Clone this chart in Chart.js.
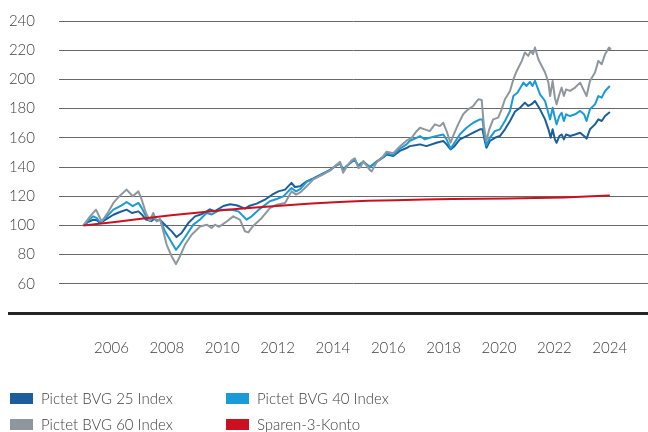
<!DOCTYPE html>
<html>
<head>
<meta charset="utf-8">
<script src="https://cdn.jsdelivr.net/npm/chart.js@4.4.1/dist/chart.umd.min.js"></script>
<style>
  html,body{margin:0;padding:0;background:#fff;}
  #wrap{position:relative;width:648px;height:432px;overflow:hidden;font-family:Lato,"Open Sans",sans-serif;font-weight:300;}
  #c{position:absolute;left:0;top:0;}
  .lg{position:absolute;display:flex;align-items:center;font-size:15px;color:#404040;white-space:nowrap;}
  .lg span.sw{display:inline-block;width:23px;height:11px;margin-right:8px;}
</style>
</head>
<body>
<div id="wrap"><canvas id="c" width="648" height="432"></canvas></div>
<script>
// ---- data (decimal years, index values) ----
const seriesNames = ['Pictet BVG 25 Index','Pictet BVG 40 Index','Pictet BVG 60 Index','Sparen-3-Konto'];
const seriesColors = ['#1b5e9b','#1a9ad6','#8e979e','#cc1020'];
const tickLabels = ['2006','2008','2010','2012','2014','2016','2018','2020','2022','2024'];
const yTicks = [60,80,100,120,140,160,180,200,220,240];

const d25 = [2005.87,2006.05,2006.22,2006.35,2006.46,2006.7,2006.94,2007.15,2007.41,2007.6,2007.83,2007.95,2008.1,2008.3,2008.4,2008.5,2008.6,2008.72,2008.84,2009.02,2009.19,2009.37,2009.61,2009.85,2010.1,2010.38,2010.56,2010.86,2011.1,2011.33,2011.63,2011.8,2012.05,2012.34,2012.6,2012.82,2013.06,2013.29,2013.41,2013.59,2013.83,2014.07,2014.42,2014.66,2014.9,2015.02,2015.13,2015.25,2015.43,2015.55,2015.67,2015.85,2016.08,2016.32,2016.56,2016.68,2016.92,2017.15,2017.39,2017.51,2017.75,2017.87,2018.1,2018.46,2018.7,2018.82,2018.96,2019.1,2019.29,2019.53,2019.77,2020.01,2020.1,2020.17,2020.24,2020.36,2020.54,2020.72,2020.9,2021.08,2021.26,2021.44,2021.61,2021.73,2021.85,2021.97,2022.15,2022.33,2022.45,2022.53,2022.6,2022.68,2022.74,2022.84,2022.92,2023.0,2023.08,2023.22,2023.4,2023.58,2023.72,2023.81,2023.93,2024.11,2024.23,2024.35,2024.47,2024.64];
const v25 = [100,102.5,103.9,103.5,101.6,104.5,107.3,109,110.8,108.5,109.6,107.5,104,103,104.5,103.2,104,101.5,99.3,95.9,92,94.8,101.6,106.2,107.8,111,109.8,113.3,114.5,113.8,111.5,113.5,114.9,117.6,121,123.3,124.5,129.1,126.3,126.8,130.2,132.2,135.6,137.9,141.2,142.3,138.2,140.5,143.5,144.5,141,143.5,140,143.5,146.5,148.5,147.5,151,153,154.3,155,155.5,154.3,156.6,157.8,155.5,152,154.3,158.9,161.2,163.5,165.8,165.8,158.9,153.2,157.8,160,161.2,165.8,171.5,178,180.6,184.1,181.8,183,185.2,179.5,172.6,165.8,160,165.8,158.9,156.6,161.2,162.3,158.9,162.3,161.2,162.3,163.5,161.2,159.4,165.8,169.2,172.6,171.5,174.9,177.7];

const d40 = [2005.87,2006.05,2006.22,2006.35,2006.46,2006.7,2006.94,2007.22,2007.41,2007.63,2007.83,2007.95,2008.1,2008.24,2008.36,2008.5,2008.6,2008.78,2008.96,2009.17,2009.31,2009.55,2009.79,2010.03,2010.26,2010.45,2010.74,2011.1,2011.4,2011.69,2011.87,2012.17,2012.52,2012.76,2013.0,2013.29,2013.45,2013.6,2013.83,2014.07,2014.42,2014.66,2014.9,2015.02,2015.13,2015.25,2015.43,2015.55,2015.67,2015.85,2016.08,2016.32,2016.56,2016.68,2016.92,2017.15,2017.39,2017.51,2017.75,2017.87,2018.04,2018.22,2018.46,2018.7,2018.82,2018.96,2019.1,2019.29,2019.53,2019.77,2020.01,2020.1,2020.17,2020.24,2020.36,2020.54,2020.72,2020.9,2021.08,2021.2,2021.35,2021.56,2021.67,2021.79,2021.88,2021.97,2022.15,2022.33,2022.41,2022.51,2022.6,2022.68,2022.74,2022.84,2022.92,2023.0,2023.08,2023.22,2023.4,2023.58,2023.72,2023.81,2023.93,2024.11,2024.23,2024.35,2024.47,2024.64];
const v40 = [100,103.5,106.2,105,102,106,110.8,113.5,116,113.2,115.4,112,106.2,103.2,105,103.5,104,95.9,90.1,83.3,86.7,93.6,100.5,104,108.5,107.5,110.8,110.8,109.6,103.9,106.2,111.5,116.5,118.1,119.9,125.6,123.3,124.8,129.8,132,135.5,138,141.4,142.6,137.9,140.5,143.8,144.8,140.8,143.8,139.6,143.7,147,149.2,148.3,152.5,155.5,158,160,161.2,158.9,160,161.2,162.3,158.9,152.5,156.6,162.3,166.9,170.3,172.6,172.6,161.2,154.8,160,164.6,165.8,171.5,178.4,188.6,191,197.8,195.5,198.3,195.5,199,189.8,185.2,179.5,172.6,180.6,173.7,169.2,174.9,177.2,171.5,176.1,174.9,176.1,178.4,176.1,171.5,179.5,182.9,188.6,187.5,192.1,195.5];

const d60 = [2005.87,2006.1,2006.32,2006.52,2006.75,2006.94,2007.15,2007.41,2007.63,2007.83,2007.95,2008.1,2008.24,2008.36,2008.48,2008.6,2008.72,2008.84,2009.02,2009.17,2009.31,2009.49,2009.73,2010.03,2010.27,2010.44,2010.56,2010.7,2010.98,2011.21,2011.45,2011.63,2011.75,2011.93,2012.2,2012.52,2012.76,2013.06,2013.29,2013.45,2013.6,2013.83,2013.95,2014.07,2014.42,2014.66,2014.9,2015.02,2015.13,2015.25,2015.43,2015.55,2015.67,2015.75,2015.85,2016.08,2016.15,2016.32,2016.56,2016.68,2016.92,2017.15,2017.39,2017.57,2017.75,2017.87,2018.04,2018.22,2018.4,2018.58,2018.7,2018.82,2018.96,2019.05,2019.23,2019.41,2019.59,2019.77,2019.95,2020.07,2020.15,2020.24,2020.34,2020.48,2020.66,2020.78,2020.9,2021.08,2021.2,2021.32,2021.5,2021.61,2021.73,2021.82,2021.9,2021.97,2022.09,2022.21,2022.33,2022.45,2022.51,2022.6,2022.68,2022.74,2022.84,2022.92,2023.0,2023.08,2023.22,2023.4,2023.58,2023.72,2023.81,2023.93,2024.11,2024.23,2024.35,2024.47,2024.61,2024.68];
const v60 = [100,106,110.8,102.7,109,115.4,120,124.5,120,123.3,117.6,108.5,103.2,108.5,102.7,104.4,95.9,86.7,78.7,73.5,78.7,86.7,93.6,99.3,100.5,98.2,100.5,99,102.7,106.2,104,96,95.2,99.8,104.5,111.9,114.2,115.3,123.3,121.1,122.6,126.8,129.1,131.5,135,137.5,141.6,143.5,136,140,144.5,146,139.3,140,144,138,137,143,147.4,150.5,149.5,154,158,160,164.5,166.9,165.8,164.6,169.2,168,170.3,164.6,156.6,161.2,169.2,176.1,179.5,181.8,186.4,185.9,168,157.8,165.8,172.6,173.8,179.5,186.4,192.1,200,205.8,212.7,218.4,216.1,219.5,217.3,221.8,213.8,209.2,204.7,197.8,188.6,198.9,187.5,182.9,189.8,194.4,188.6,193.2,192.1,194.4,197.8,192.1,188.6,198.9,204.7,212.7,210.4,217.3,221.8,220.7];

const dSav = [2005.87,2007,2008,2009,2010,2011,2012,2013,2014,2015,2016,2017,2018,2019,2020,2021,2022,2023,2024,2024.64];
const vSav = [100,102.3,104.7,106.9,108.9,110.7,112.2,113.7,115,116,116.8,117.3,117.7,118,118.3,118.5,118.7,119.1,119.9,120.4];

// ---- build ----
const pairs = (d, v) => d.map((t, i) => ({x: t, y: v[i]}));
const seriesData = [pairs(d25, v25), pairs(d40, v40), pairs(d60, v60), pairs(dSav, vSav)];
const drawOrder = [3, 2, 1, 0];

const bottomLine = {
  id: 'bottomLine',
  afterDraw(chart) {
    const y = Math.round(chart.scales.y.getPixelForValue(40)) + 0.5;
    const c = chart.ctx;
    c.save();
    c.strokeStyle = '#262626';
    c.lineWidth = 3;
    c.beginPath();
    c.moveTo(8, y);
    c.lineTo(chart.width, y);
    c.stroke();
    c.restore();
  }
};

const fontFam = 'Lato, "Open Sans", sans-serif';

new Chart(document.getElementById('c'), {
  type: 'line',
  data: {
    datasets: seriesNames.map((n, i) => ({
      label: n,
      data: seriesData[i],
      borderColor: seriesColors[i],
      backgroundColor: seriesColors[i],
      borderWidth: 2,
      pointRadius: 0,
      tension: 0,
      fill: false,
      order: drawOrder[i],
      borderJoinStyle: 'round'
    }))
  },
  options: {
    responsive: false,
    animation: false,
    layout: {padding: {top: 21, right: 0, bottom: 69, left: 0}},
    plugins: {legend: {display: false}, tooltip: {enabled: false}},
    scales: {
      x: {
        type: 'linear',
        min: 2005,
        max: 2026,
        afterBuildTicks(scale) {
          scale.ticks = tickLabels.map(l => ({value: 2006.87 + (Number(l) - 2006) * 0.987, label: l}));
        },
        afterFit(scale) { scale.height = 50; scale.paddingLeft = 0; scale.paddingRight = 0; },
        grid: {display: false, drawTicks: false},
        border: {display: false},
        ticks: {
          padding: 26,
          autoSkip: false,
          maxRotation: 0,
          color: '#404040',
          font: {family: fontFam, size: 15, weight: 300},
          callback(v, i) { return tickLabels[i]; }
        }
      },
      y: {
        min: 40,
        max: 240,
        afterBuildTicks(scale) {
          scale.ticks = [40].concat(yTicks).map(v => ({value: v}));
        },
        afterFit(scale) { scale.width = 59; scale.paddingTop = 0; scale.paddingBottom = 0; },
        grid: {
          drawTicks: false,
          color: ctx => (ctx.tick && ctx.tick.value === 40) ? 'rgba(0,0,0,0)' : '#686868',
          lineWidth: 1
        },
        border: {display: false},
        ticks: {
          padding: 24,
          color: '#404040',
          font: {family: fontFam, size: 15, weight: 300},
          callback: v => (v === 40 ? '' : String(v))
        }
      }
    }
  },
  plugins: [bottomLine]
});

// ---- HTML legend ----
const wrap = document.getElementById('wrap');
const legendPos = [[10, 398], [226, 398], [10, 424], [226, 424]];
const legendOrder = [0, 1, 2, 3];
legendOrder.forEach((si, k) => {
  const el = document.createElement('div');
  el.className = 'lg';
  el.style.left = legendPos[k][0] + 'px';
  el.style.top = (legendPos[k][1] - 10) + 'px';
  el.style.height = '20px';
  const sw = document.createElement('span');
  sw.className = 'sw';
  sw.style.background = seriesColors[si];
  el.appendChild(sw);
  el.appendChild(document.createTextNode(seriesNames[si]));
  wrap.appendChild(el);
});
</script>
</body>
</html>
